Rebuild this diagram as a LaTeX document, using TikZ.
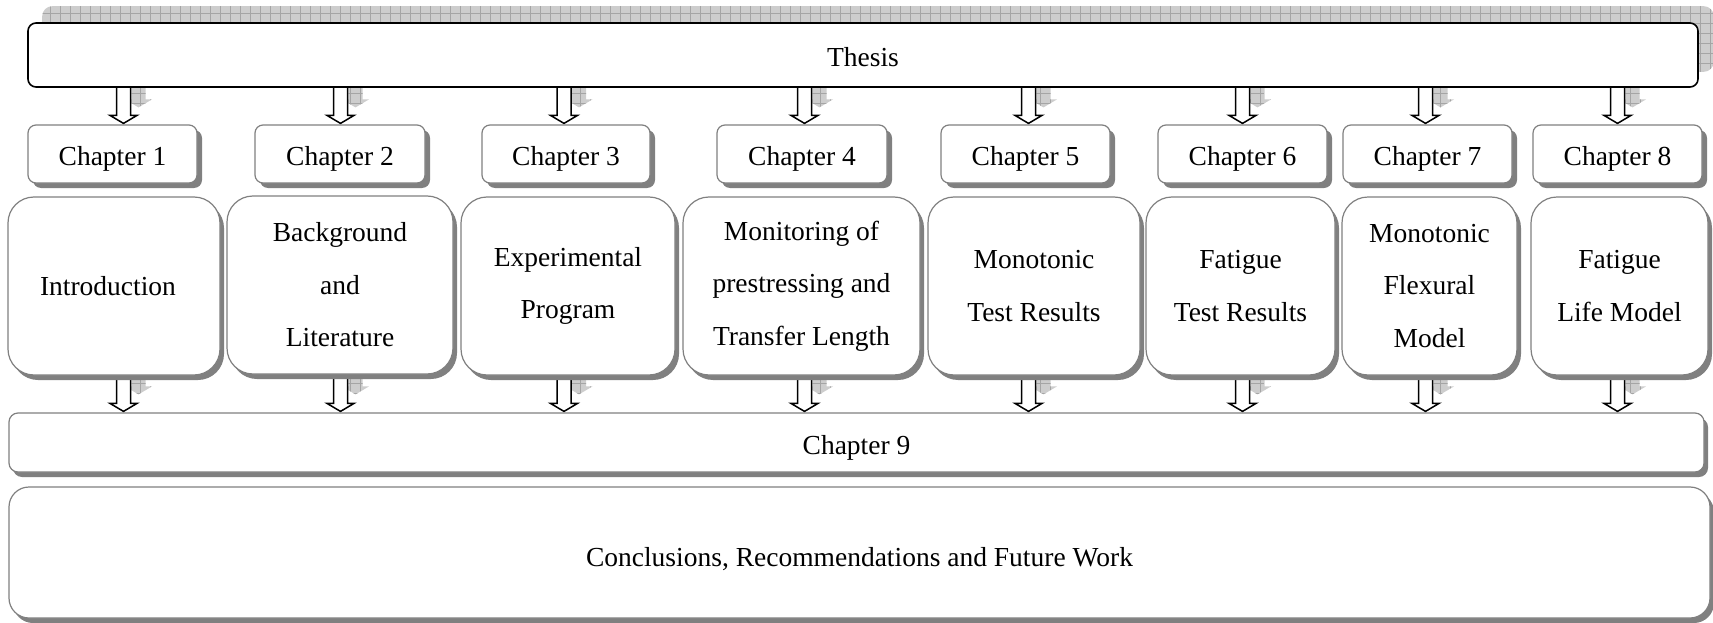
\documentclass[tikz,border=0pt]{standalone}
\usepackage{fontspec}
\setmainfont{Liberation Serif}
\usetikzlibrary{calc,shadows,backgrounds,patterns.meta}
\definecolor{bgray}{RGB}{128,128,128}
\definecolor{shlight}{RGB}{205,205,205}
\definecolor{shline}{RGB}{165,165,165}
% polygon of a block arrow; needs \x1,\y1 (start) and \y2 (tip); #1,#2 = offset
\newcommand\arrowpoly[2]{(\x1-7pt+#1,\y1+3pt+#2) -- (\x1-7pt+#1,\y2+9pt+#2) -- (\x1-13.5pt+#1,\y2+9pt+#2) -- (\x1+#1,\y2+1pt+#2) -- (\x1+13.5pt+#1,\y2+9pt+#2) -- (\x1+7pt+#1,\y2+9pt+#2) -- (\x1+7pt+#1,\y1+3pt+#2) -- cycle}
% #1 x-coordinate name, #2 source node, #3 target node, #4 shadow y offset
\newcommand\blockarrow[4]{%
  \begin{scope}[on background layer]
    \path (#2.south -| #1) coordinate (bas) (#3.north -| #1) coordinate (bae);
    \fill[patshade] let \p1=(bas),\p2=(bae) in \arrowpoly{15pt}{#4};
    \filldraw[blockarr] let \p1=(bas),\p2=(bae) in \arrowpoly{0pt}{0pt};
  \end{scope}}
\begin{document}
\begin{tikzpicture}[x=1pt,y=-1pt,
  every node/.style={font=\fontsize{27.5pt}{52.5pt}\selectfont, inner sep=0pt, align=center},
  thesisbox/.style={draw=black, line width=1.6pt, rounded corners=8pt, fill=white,
    text height=25pt, text depth=2pt},
  chapbox/.style={draw=bgray, line width=1.2pt, rounded corners=8pt, fill=white,
    minimum height=58pt, text height=24pt, text depth=2pt,
    general shadow={shadow xshift=5pt, shadow yshift=-5pt, fill=bgray}},
  contbox/.style={draw=bgray, line width=1.2pt, rounded corners=26pt, fill=white,
    minimum height=178pt, general shadow={shadow xshift=4pt, shadow yshift=-5pt, fill=bgray}},
  widebox/.style={draw=bgray, line width=1.2pt, fill=white,
    general shadow={shadow xshift=4pt, shadow yshift=-5pt, fill=bgray}},
  patshade/.style={fill=shlight, postaction={pattern={Hatch[distance=10pt,line width=0.7pt]}, pattern color=shline}},
  blockarr/.style={draw=black, fill=white, line width=1.5pt, line join=miter},
]
\useasboundingbox (0,0) rectangle (1713,623);

% Thesis
\node[thesisbox, minimum width=1670pt, minimum height=64pt] (thesis) at (863,55) {Thesis};
\begin{scope}[on background layer]
  \fill[patshade, rounded corners=10pt] ([xshift=15pt,yshift=16pt]thesis.south west) rectangle ([xshift=15pt,yshift=16pt]thesis.north east);
\end{scope}

% chapter headers
\node[chapbox, minimum width=169pt] (h1) at (112.5,154) {Chapter 1};
\node[chapbox, minimum width=170pt] (h2) at (340,154) {Chapter 2};
\node[chapbox, minimum width=168pt] (h3) at (566,154) {Chapter 3};
\node[chapbox, minimum width=170pt] (h4) at (802,154) {Chapter 4};
\node[chapbox, minimum width=169pt] (h5) at (1025.5,154) {Chapter 5};
\node[chapbox, minimum width=169pt] (h6) at (1242.5,154) {Chapter 6};
\node[chapbox, minimum width=169pt] (h7) at (1427.5,154) {Chapter 7};
\node[chapbox, minimum width=169pt] (h8) at (1617.5,154) {Chapter 8};

% chapter contents
\node[contbox, minimum width=212pt] (b1) at (114,286) {Introduction\hspace*{12pt}};
\node[contbox, minimum width=226pt] (b2) at (340,285) {Background\\and\\Literature};
\node[contbox, minimum width=214pt] (b3) at (568,286) {Experimental\\Program};
\node[contbox, minimum width=237pt] (b4) at (801.5,286) {Monitoring of\\prestressing and\\Transfer Length};
\node[contbox, minimum width=212pt] (b5) at (1034,286) {Monotonic\\Test Results};
\node[contbox, minimum width=189pt] (b6) at (1240.5,286) {Fatigue\\Test Results};
\node[contbox, minimum width=175pt] (b7) at (1429.5,286) {Monotonic\\Flexural\\Model};
\node[contbox, minimum width=177pt] (b8) at (1619.5,286) {Fatigue\\Life Model};

% chapter 9 and conclusions
\node[widebox, rounded corners=9pt, minimum width=1695pt, minimum height=59pt,
  text height=26.8pt, text depth=2pt] (c9) at (856.5,442.5) {Chapter 9};
\node[widebox, rounded corners=20pt, minimum width=1701pt, minimum height=131pt,
  text height=30pt, text depth=2pt] (conc) at (859.5,552.5) {Conclusions, Recommendations and Future Work};

% arrow positions
\coordinate (ax1) at (123.5,0);
\coordinate (ax2) at (340.5,0);
\coordinate (ax3) at (564,0);
\coordinate (ax4) at (804.5,0);
\coordinate (ax5) at (1028.5,0);
\coordinate (ax6) at (1242.5,0);
\coordinate (ax7) at (1425.5,0);
\coordinate (ax8) at (1617.5,0);

% arrows Thesis -> chapters
\blockarrow{ax1}{thesis}{h1}{16pt}
\blockarrow{ax2}{thesis}{h2}{16pt}
\blockarrow{ax3}{thesis}{h3}{16pt}
\blockarrow{ax4}{thesis}{h4}{16pt}
\blockarrow{ax5}{thesis}{h5}{16pt}
\blockarrow{ax6}{thesis}{h6}{16pt}
\blockarrow{ax7}{thesis}{h7}{16pt}
\blockarrow{ax8}{thesis}{h8}{16pt}

% arrows contents -> chapter 9
\blockarrow{ax1}{b1}{c9}{17pt}
\blockarrow{ax2}{b2}{c9}{17pt}
\blockarrow{ax3}{b3}{c9}{17pt}
\blockarrow{ax4}{b4}{c9}{17pt}
\blockarrow{ax5}{b5}{c9}{17pt}
\blockarrow{ax6}{b6}{c9}{17pt}
\blockarrow{ax7}{b7}{c9}{17pt}
\blockarrow{ax8}{b8}{c9}{17pt}
\end{tikzpicture}
\end{document}
